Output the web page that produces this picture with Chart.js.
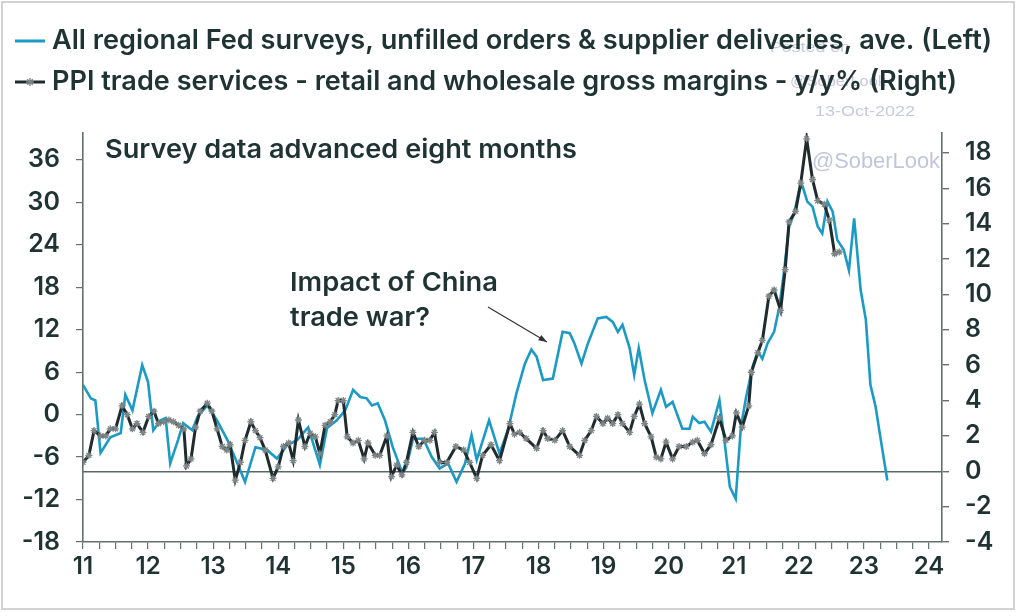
<!DOCTYPE html>
<html>
<head>
<meta charset="utf-8">
<script src="https://cdn.jsdelivr.net/npm/chart.js@4.4.0/dist/chart.umd.min.js"></script>
<style>
    html, body { margin: 0; padding: 0; background: #fff; }
    #wrap { width: 1025px; height: 616px; position: relative; }
</style>
</head>
<body>
<div id="wrap"><canvas id="chart" width="1025" height="616"></canvas></div>
<script>
// Survey series (left axis), x = two-digit year with fraction
const surveyDates = [11.00,11.12,11.19,11.27,11.42,11.58,11.65,11.76,11.91,
    12.00,12.08,12.19,12.27,12.34,12.46,12.54,12.68,12.76,12.91,
    13.06,13.22,13.34,13.49,13.65,13.83,13.98,
    14.14,14.29,14.46,14.64,14.75,14.90,
    15.03,15.15,15.26,15.36,15.44,15.53,15.64,15.76,15.91,15.97,
    16.07,16.23,16.36,16.48,16.61,16.74,16.87,16.97,
    17.05,17.24,17.40,17.53,17.66,17.79,17.89,17.97,
    18.07,18.22,18.37,18.48,18.55,18.66,18.76,18.91,
    19.04,19.14,19.22,19.29,19.40,19.47,19.54,19.63,19.75,19.88,19.96,
    20.06,20.21,20.32,20.37,20.47,20.55,20.65,20.78,20.85,20.94,
    21.03,21.11,21.19,21.29,21.37,21.44,21.52,21.62,21.70,21.77,21.85,21.93,
    22.01,22.06,22.13,22.21,22.29,22.36,22.44,22.52,22.59,22.69,22.77,22.85,22.95,
    23.03,23.10,23.18,23.26,23.36];
const surveyValues = [4.2,2.3,2.0,-5.4,-3.2,-2.6,2.8,0.6,7.0,
    4.6,-2.2,-0.8,-0.5,-6.9,-3.6,-1.2,-2.2,-0.3,1.3,
    -0.8,-3.6,-6.2,-9.5,-4.6,-5.0,-6.2,
    -4.3,-3.6,-1.8,-7.1,-1.9,-0.8,
    0.6,3.5,2.5,2.3,1.3,1.6,-0.8,-4.6,-8.3,-7.4,
    -3.4,-3.4,-6.0,-7.6,-6.9,-9.5,-6.9,-2.9,
    -6.4,-0.8,-5.5,-2.2,3.0,7.2,9.2,8.2,
    4.9,5.1,11.7,11.5,10.1,7.2,10.1,13.6,
    13.8,13.1,11.7,12.7,9.4,5.6,9.4,4.9,0.2,3.5,1.1,
    1.8,-2.0,-2.0,-0.3,-1.2,-1.0,-2.4,2.05,-3.1,-10.2,
    -11.9,-1.7,2.5,6.8,8.9,7.9,10.1,11.7,15.2,20.0,26.6,28.5,
    32.0,32.2,30.1,29.4,26.6,25.6,30.1,28.7,24.7,23.3,20.4,27.75,17.6,
    13.4,4.2,1.1,-3.6,-9.3];

// PPI trade services series (right axis)
const ppiDates = [11.00,11.09,11.17,11.27,11.35,11.42,11.50,11.60,11.68,11.76,11.83,11.92,
    12.01,12.09,12.16,12.24,12.32,12.39,12.47,12.55,12.59,12.66,12.73,12.80,12.91,12.98,
    13.06,13.14,13.21,13.26,13.34,13.42,13.49,13.58,13.65,13.72,13.80,13.92,
    14.00,14.08,14.16,14.23,14.31,14.41,14.49,14.57,14.64,14.72,14.80,14.87,14.92,
    15.00,15.06,15.15,15.23,15.32,15.38,15.49,15.56,15.67,15.74,15.82,15.90,15.97,
    16.07,16.16,16.25,16.33,16.40,16.48,16.59,16.73,16.85,16.94,
    17.05,17.14,17.27,17.40,17.56,17.63,17.71,17.81,17.97,
    18.07,18.14,18.25,18.37,18.48,18.63,18.71,18.81,18.89,18.99,
    19.06,19.14,19.22,19.29,19.40,19.47,19.55,19.63,19.73,19.81,19.88,19.96,
    20.06,20.16,20.27,20.37,20.44,20.55,20.65,20.78,20.88,20.98,
    21.04,21.13,21.23,21.27,21.37,21.44,21.54,21.62,21.72,21.79,21.85,21.95,
    22.03,22.12,22.21,22.29,22.39,22.47,22.55,22.62];
const ppiValues = [0.5,0.9,2.3,2.0,2.0,2.4,2.4,3.7,3.2,2.4,2.7,2.2,
    3.1,3.4,2.7,2.8,2.9,2.8,2.6,2.4,0.3,0.7,2.5,3.4,3.85,3.4,
    2.4,1.4,1.2,1.5,-0.5,0.5,1.75,2.8,2.3,1.9,1.2,-0.4,
    0.25,1.4,1.6,0.6,2.9,1.4,2.15,1.95,1.0,2.6,2.8,3.2,4.0,
    4.0,1.95,1.6,1.75,0.7,1.6,0.9,0.9,2.0,-0.3,0.35,-0.2,0.5,
    2.2,1.4,1.75,1.75,2.2,0.5,0.5,1.4,1.2,0.5,
    -0.4,0.9,1.5,0.6,2.7,2.1,2.2,1.85,1.3,
    2.3,1.85,1.75,2.3,1.4,0.9,1.75,2.3,3.1,2.7,
    3.0,2.7,3.2,2.7,2.2,3.1,3.8,2.7,1.95,0.8,0.7,1.65,
    0.7,1.4,1.4,1.65,1.75,1.0,1.5,3.0,1.75,2.0,
    3.3,2.5,3.7,5.6,6.7,7.4,9.9,10.25,9.1,11.4,14.1,14.7,
    16.3,18.8,16.5,15.3,15.1,14.2,12.3,12.4];

const yearLabels = ['11','12','13','14','15','16','17','18','19','20','21','22','23','24'];

const legendLeft = 'All regional Fed surveys, unfilled orders & supplier deliveries, ave. (Left)';
const legendRight = 'PPI trade services - retail and wholesale gross margins - y/y% (Right)';

const BLUE = '#1b9ac6';
const DARK = '#1f2b2d';
const AXIS = '#66706f';
const TEXT = '#1f3333';
const FONT = 'Inter, "Liberation Sans", Arial, sans-serif';
const MARK_FONT = '"Liberation Sans", Arial, sans-serif';

Chart.defaults.font.family = FONT;
Chart.defaults.font.weight = 600;

// draw a text stretched/condensed to a given width
function fitText(ctx, text, x, y, width, size, color, weight, family) {
    ctx.save();
    ctx.font = (weight || 600) + ' ' + size + 'px ' + (family || FONT);
    const w = ctx.measureText(text).width;
    ctx.translate(x, y);
    ctx.scale(width / w, 1);
    ctx.fillStyle = color;
    ctx.textBaseline = 'middle';
    ctx.textAlign = 'left';
    ctx.fillText(text, 0, 0);
    ctx.restore();
}

function drawStar(ctx, x, y, r) {
    ctx.save();
    ctx.strokeStyle = '#7d8585';
    ctx.lineWidth = 1.4;
    ctx.beginPath();
    ctx.moveTo(x - r, y); ctx.lineTo(x + r, y);
    ctx.moveTo(x, y - r); ctx.lineTo(x, y + r);
    ctx.moveTo(x - r * 0.7, y - r * 0.7); ctx.lineTo(x + r * 0.7, y + r * 0.7);
    ctx.moveTo(x - r * 0.7, y + r * 0.7); ctx.lineTo(x + r * 0.7, y - r * 0.7);
    ctx.stroke();
    ctx.restore();
}

const decorations = {
    id: 'decorations',
    beforeDatasetsDraw(chart) {
        const ctx = chart.ctx;
        // watermarks
        fitText(ctx, '@SoberLook', 812, 162, 128, 22, 'rgba(175,175,210,0.75)', 400, MARK_FONT);
        fitText(ctx, 'Posted on', 770, 48, 80, 15, 'rgba(185,185,215,0.8)', 400, MARK_FONT);
        fitText(ctx, '@SoberLook', 790, 82, 96, 15, 'rgba(185,185,215,0.8)', 400, MARK_FONT);
        fitText(ctx, '13-Oct-2022', 815, 112, 100, 15, 'rgba(185,185,215,0.8)', 400, MARK_FONT);
    },
    afterDraw(chart) {
        const ctx = chart.ctx;
        // frame
        ctx.save();
        ctx.strokeStyle = '#d2d2d2';
        ctx.lineWidth = 2;
        ctx.strokeRect(2, 2, 1012, 607);
        ctx.restore();

        // legend
        ctx.save();
        ctx.lineWidth = 3;
        ctx.strokeStyle = BLUE;
        ctx.beginPath(); ctx.moveTo(15, 41); ctx.lineTo(45, 41); ctx.stroke();
        ctx.strokeStyle = DARK;
        ctx.beginPath(); ctx.moveTo(15, 82); ctx.lineTo(45, 82); ctx.stroke();
        ctx.restore();
        drawStar(ctx, 30, 82, 4);
        fitText(ctx, legendLeft, 52, 41, 940, 27, TEXT);
        fitText(ctx, legendRight, 52, 82, 905, 27, TEXT);

        // annotations
        fitText(ctx, 'Survey data advanced eight months', 105, 150, 472, 26, TEXT);
        fitText(ctx, 'Impact of China', 290, 283, 208, 26, TEXT);
        fitText(ctx, 'trade war?', 290, 318, 140, 26, TEXT);

        // arrow
        ctx.save();
        ctx.strokeStyle = '#333';
        ctx.fillStyle = '#333';
        ctx.lineWidth = 1.2;
        const x1 = 488, y1 = 307, x2 = 547, y2 = 342;
        ctx.beginPath(); ctx.moveTo(x1, y1); ctx.lineTo(x2, y2); ctx.stroke();
        const a = Math.atan2(y2 - y1, x2 - x1);
        ctx.beginPath();
        ctx.moveTo(x2, y2);
        ctx.lineTo(x2 - 9 * Math.cos(a - 0.35), y2 - 9 * Math.sin(a - 0.35));
        ctx.lineTo(x2 - 9 * Math.cos(a + 0.35), y2 - 9 * Math.sin(a + 0.35));
        ctx.closePath();
        ctx.fill();
        ctx.restore();
    }
};

const ctx = document.getElementById('chart').getContext('2d');
new Chart(ctx, {
    type: 'line',
    data: {
        datasets: [{
            label: legendRight,
            data: ppiDates.map((d, i) => ({ x: d, y: ppiValues[i] })),
            yAxisID: 'yRight',
            borderColor: DARK,
            borderWidth: 3,
            pointStyle: 'star',
            pointRadius: 3.5,
            pointBorderColor: '#7d8585',
            pointBackgroundColor: '#7d8585',
            pointBorderWidth: 1.3,
            tension: 0,
            order: 0
        }, {
            label: legendLeft,
            data: surveyDates.map((d, i) => ({ x: d, y: surveyValues[i] })),
            yAxisID: 'yLeft',
            borderColor: BLUE,
            borderWidth: 2.6,
            pointRadius: 0,
            tension: 0,
            order: 1
        }]
    },
    options: {
        responsive: false,
        animation: false,
        devicePixelRatio: 1,
        layout: { padding: { top: 133, left: 0, right: 0, bottom: 0 } },
        plugins: {
            legend: { display: false },
            tooltip: { enabled: false }
        },
        scales: {
            x: {
                type: 'linear',
                min: 11,
                max: 24.2,
                afterFit: (scale) => { scale.height = 74; },
                ticks: {
                    stepSize: 0.25,
                    autoSkip: false,
                    maxRotation: 0,
                    includeBounds: false,
                    padding: 3,
                    color: TEXT,
                    font: { size: 24, weight: 600 },
                    callback: (v) => Number.isInteger(v) ? yearLabels[v - 11] : ''
                },
                grid: { drawOnChartArea: false, tickLength: 7, tickColor: AXIS, lineWidth: 1.2 },
                border: { color: AXIS, width: 1.6 }
            },
            yLeft: {
                position: 'left',
                min: -18,
                max: 39.8,
                afterFit: (scale) => { scale.width = 83; },
                ticks: {
                    stepSize: 6,
                    includeBounds: false,
                    padding: 16,
                    color: TEXT,
                    font: { size: 25, weight: 600 }
                },
                grid: { drawOnChartArea: false, tickLength: 7, tickColor: AXIS, lineWidth: 1.2 },
                border: { color: AXIS, width: 1.6 }
            },
            yRight: {
                position: 'right',
                min: -4,
                max: 19.13,
                afterFit: (scale) => { scale.width = 83; },
                ticks: {
                    stepSize: 2,
                    includeBounds: false,
                    padding: 16,
                    color: TEXT,
                    font: { size: 25, weight: 600 }
                },
                grid: {
                    drawOnChartArea: true,
                    color: (c) => (c.tick && c.tick.value === 0) ? '#5d6767' : 'rgba(0,0,0,0)',
                    lineWidth: 1.4,
                    tickLength: 7,
                    tickColor: AXIS
                },
                border: { color: AXIS, width: 1.6 }
            }
        }
    },
    plugins: [decorations]
});
</script>
</body>
</html>
